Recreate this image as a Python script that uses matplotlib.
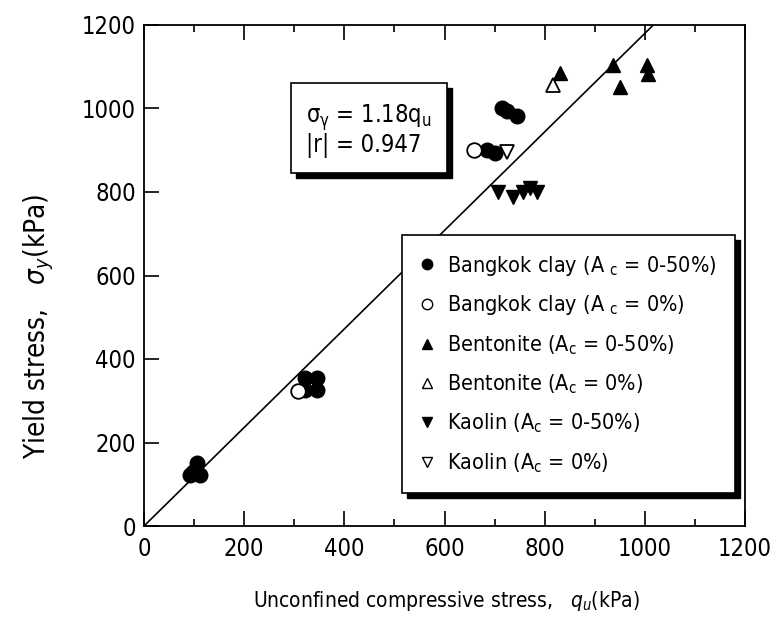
import matplotlib
matplotlib.use("Agg")
import matplotlib.pyplot as plt
from matplotlib.patches import Rectangle
from matplotlib.lines import Line2D
import numpy as np

FONT = "DejaVu Sans"
plt.rcParams['font.family'] = [FONT]
plt.rcParams['font.stretch'] = 'condensed'
plt.rcParams['mathtext.fontset'] = 'dejavusans'

# Data
bk_fill_x = [105, 98, 112, 92, 322, 345, 322, 345, 715, 725, 745, 685, 700]
bk_fill_y = [152, 130, 122, 122, 354, 354, 326, 326, 1000, 995, 983, 900, 893]
bk_open_x = [308, 658]
bk_open_y = [323, 900]
bt_fill_x = [831, 937, 951, 1004, 1007]
bt_fill_y = [1084, 1104, 1052, 1104, 1082]
bt_open_x = [817]
bt_open_y = [1056]
ka_fill_x = [707, 737, 757, 771, 784]
ka_fill_y = [799, 789, 801, 809, 801]
ka_open_x = [724]
ka_open_y = [896]
slope = 1.18

fig = plt.figure(figsize=(7.79, 6.34), dpi=100)
ax = fig.add_axes([144/779, 1-526/634, 601/779, 501/634])
ax.set_xlim(0, 1200)
ax.set_ylim(0, 1200)

ms = 10.5
ax.plot(bk_fill_x, bk_fill_y, 'o', ms=ms, mfc='k', mec='k', ls='none', zorder=3)
ax.plot(bk_open_x, bk_open_y, 'o', ms=ms, mfc='w', mec='k', mew=1.3, ls='none', zorder=3)
ax.plot(bt_fill_x, bt_fill_y, '^', ms=ms, mfc='k', mec='k', ls='none', zorder=3)
ax.plot(bt_open_x, bt_open_y, '^', ms=ms, mfc='w', mec='k', mew=1.3, ls='none', zorder=3)
ax.plot(ka_fill_x, ka_fill_y, 'v', ms=ms, mfc='k', mec='k', ls='none', zorder=3)
ax.plot(ka_open_x, ka_open_y, 'v', ms=ms, mfc='w', mec='k', mew=1.3, ls='none', zorder=3)

xl = np.array([0, 1200/slope])
ax.plot(xl, slope*xl, 'k-', lw=1.2, zorder=2)

ax.set_xticks(np.arange(0, 1201, 200))
ax.set_xticks(np.arange(100, 1200, 200), minor=True)
ax.set_yticks(np.arange(0, 1201, 200))
ax.tick_params(axis='x', which='both', direction='in', top=True, bottom=True, labelsize=17, pad=8)
ax.tick_params(axis='y', which='both', direction='in', left=True, right=False, labelsize=17, pad=6)
ax.tick_params(which='major', length=11, width=1.2)
ax.tick_params(which='minor', length=5, width=1.2)
for s in ax.spines.values():
    s.set_linewidth(1.3)

ax.set_xlabel(r"Unconfined compressive stress,   $q_u$(kPa)", fontsize=15)
ax.xaxis.set_label_coords((446-144)/601, (526-589)/501)
ax.set_ylabel(r"Yield stress,   $\sigma_y$(kPa)", fontsize=20)
ax.yaxis.set_label_coords((56-144)/601, (526-326)/501)

txt = ax.text(0.27, 0.79, "$\\mathregular{\\sigma_\\gamma}$ = 1.18q$_\\mathregular{u}$\n|r| = 0.947",
              transform=ax.transAxes,
              fontsize=17, ha='left', va='center', linespacing=1.0, zorder=5,
              bbox=dict(boxstyle='square,pad=0.65', fc='w', ec='k', lw=1.2))

handles = [
    Line2D([], [], marker='o', ls='none', ms=7.5, mfc='k', mec='k'),
    Line2D([], [], marker='o', ls='none', ms=7.5, mfc='w', mec='k'),
    Line2D([], [], marker='^', ls='none', ms=7.5, mfc='k', mec='k'),
    Line2D([], [], marker='^', ls='none', ms=7.5, mfc='w', mec='k'),
    Line2D([], [], marker='v', ls='none', ms=7.5, mfc='k', mec='k'),
    Line2D([], [], marker='v', ls='none', ms=7.5, mfc='w', mec='k'),
]
labels = [
    r"Bangkok clay (A $_\mathregular{c}$ = 0-50%)",
    r"Bangkok clay (A $_\mathregular{c}$ = 0%)",
    r"Bentonite (A$_\mathregular{c}$ = 0-50%)",
    r"Bentonite (A$_\mathregular{c}$ = 0%)",
    r"Kaolin (A$_\mathregular{c}$ = 0-50%)",
    r"Kaolin (A$_\mathregular{c}$ = 0%)",
]
leg = ax.legend(handles, labels, loc='upper left', bbox_to_anchor=((402-144)/601, (526-235)/501),
                fontsize=15.5, frameon=True, fancybox=False, edgecolor='k', framealpha=1,
                handlelength=0.6, handletextpad=0.6, labelspacing=0.73, borderpad=0.87,
                borderaxespad=0)
leg.get_frame().set_linewidth(1.2)
leg.set_zorder(6)

# shadows
fig.canvas.draw()
r = fig.canvas.get_renderer()
for art, z in ((leg.get_frame(), 5.5), (txt.get_bbox_patch(), 4.5)):
    bb = art.get_window_extent(r)
    ax.add_patch(Rectangle((bb.x0 + 5, bb.y0 - 5), bb.width, bb.height,
                           transform=None, fc='k', ec='k', zorder=z, clip_on=False))

fig.savefig("out.png", dpi=100)
